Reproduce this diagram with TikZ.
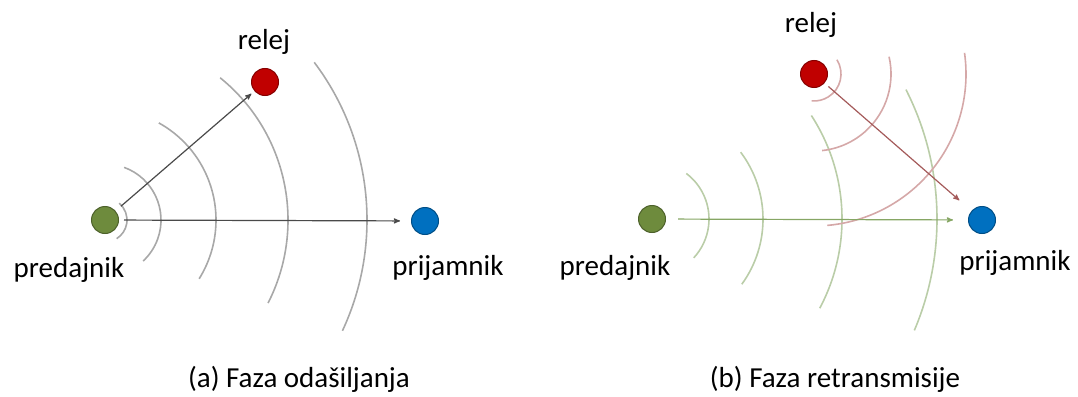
\documentclass[tikz,border=0pt]{standalone}
\usepackage{fontspec}
\setmainfont{Carlito}
\usetikzlibrary{arrows,positioning}

\definecolor{txgreen}{HTML}{6E8B3D}
\definecolor{relred}{HTML}{C00000}
\definecolor{rxblue}{HTML}{0070C0}
\definecolor{wavegray}{HTML}{A8A8A8}
\definecolor{wavegreen}{HTML}{BACDA8}
\definecolor{wavered}{HTML}{D5A8A8}
\definecolor{arrowgray}{HTML}{4A4A4A}
\definecolor{arrowgreen}{HTML}{86A664}
\definecolor{arrowred}{HTML}{A45A5A}

\begin{document}
\begin{tikzpicture}[x=1pt,y=1pt,>=stealth',semithick,
  dev/.style={circle,minimum size=27pt,inner sep=0pt,line width=1pt},
  lbl/.style={anchor=base,font=\fontsize{29}{34}\selectfont},
  wave/.style={line width=1.6pt}]
 \useasboundingbox (0,0) rectangle (1078,-396);

 % (a) faza odasiljanja
 \node[dev,fill=txgreen,draw=txgreen!70!black] (txA)  at (105,-220) {};
 \node[dev,fill=relred,draw=relred!70!black]   (relA) at (265,-82)  {};
 \node[dev,fill=rxblue,draw=rxblue!70!black]   (rxA)  at (425,-221) {};

 \foreach \r/\a/\b in {22/50/-58,56/70/-47,111/61/-32,183/51/-27,262/37/-25}
  \draw[wave,wavegray] (txA.center) ++(\a:\r) arc[start angle=\a,end angle=\b,radius=\r];

 \draw[->,arrowgray,line width=1.2pt,shorten <=5pt,shorten >=11pt] (txA) -- (rxA);
 \draw[->,arrowgray,line width=1.2pt,shorten <=7pt,shorten >=4pt] (txA) -- (relA);

 \node[lbl] (relejA)  at (264,-50)  {relej};
 \node[lbl] (predA)   at (69,-277)  {predajnik};
 \node[lbl] (prijA)   at (448,-275) {prijamnik};
 \node[lbl] (capA)    at (299,-387) {(a) Faza odašiljanja};

 % (b) faza retransmisije
 \node[dev,fill=txgreen,draw=txgreen!70!black] (txB)  at (652,-219) {};
 \node[dev,fill=relred,draw=relred!70!black]   (relB) at (814,-74)  {};
 \node[dev,fill=rxblue,draw=rxblue!70!black]   (rxB)  at (982,-220) {};

 \foreach \r/\a/\b in {57/53/-43,111/37/-36,190/33/-28,285/27/-23}
  \draw[wave,wavegreen] (txB.center) ++(\a:\r) arc[start angle=\a,end angle=\b,radius=\r];
 \foreach \r/\a/\b in {27/32/-95,77/13/-84,152/8/-85}
  \draw[wave,wavered] (relB.center) ++(\a:\r) arc[start angle=\a,end angle=\b,radius=\r];

 \draw[->,arrowgreen,line width=1.2pt,shorten <=12pt,shorten >=15pt] (txB) -- (rxB);
 \draw[->,arrowred,line width=1.2pt,shorten <=5pt,shorten >=16pt] (relB) -- (rxB);

 \node[lbl] (relejB)  at (811,-33)  {relej};
 \node[lbl] (predB)   at (615,-275) {predajnik};
 \node[lbl] (prijB)   at (1015,-270) {prijamnik};
 \node[lbl] (capB)    at (835,-387) {(b) Faza retransmisije};
\end{tikzpicture}
\end{document}
